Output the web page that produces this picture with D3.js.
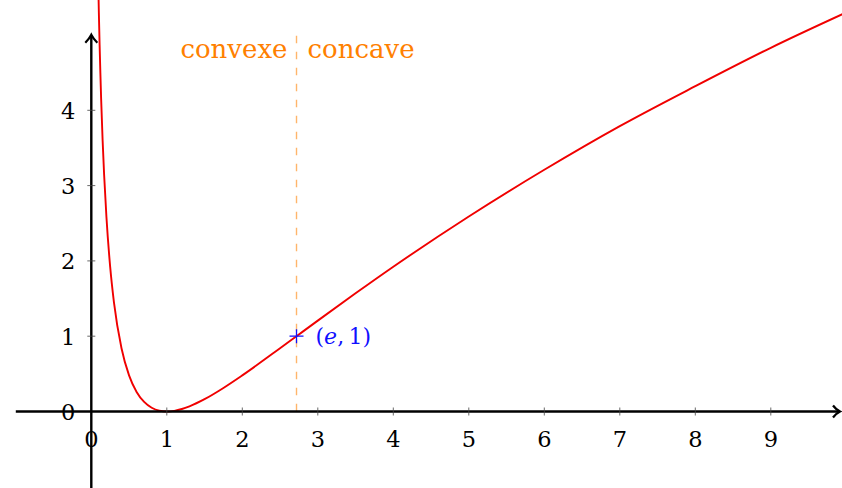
<!DOCTYPE html>
<meta charset="utf-8">
<style>
  body { margin: 0; background: white; }
  text { font-family: "DejaVu Serif", serif; }
</style>
<div id="container"></div>
<script src="https://cdn.jsdelivr.net/npm/d3@7"></script>
<script>

// points
const curveX = [0.09, 0.1, 0.11, 0.12, 0.13, 0.15, 0.17, 0.2, 0.25, 0.3, 0.4, 0.5, 0.6, 0.7, 0.8, 0.9, 1,
                1.1, 1.2, 1.3, 1.5, 1.75, 2, 2.5, 2.718, 3, 3.5, 4, 5, 6, 7, 8, 9, 10];
const curveY = [5.80, 5.30, 4.87, 4.50, 4.16, 3.60, 3.14, 2.59, 1.92, 1.45, 0.84, 0.48, 0.26, 0.127, 0.050, 0.011, 0,
                0.009, 0.033, 0.069, 0.164, 0.313, 0.48, 0.84, 1, 1.207, 1.569, 1.922, 2.59, 3.21, 3.79, 4.32, 4.83, 5.30];

const xTicks = [0, 1, 2, 3, 4, 5, 6, 7, 8, 9];
const yTicks = [0, 1, 2, 3, 4];
const inflection = { x: 2.718, y: 1 };
const leftLabel = "convexe";
const rightLabel = "concave";

const width = 842, height = 488;

const x = d3.scaleLinear().domain([-1, 10]).range([15.8, 846.3]);
const y = d3.scaleLinear().domain([0, 1]).range([411.5, 336.2]);

const svg = d3.create("svg").attr("width", width).attr("height", height);

// curve
svg.append("path")
    .datum(curveX.map((d, i) => [d, curveY[i]]))
    .attr("fill", "none")
    .attr("stroke", "#f00000")
    .attr("stroke-width", 1.9)
    .attr("d", d3.line().x(d => x(d[0])).y(d => y(d[1])).curve(d3.curveMonotoneX));

// dashed line at x = e
svg.append("line")
    .attr("x1", x(inflection.x)).attr("x2", x(inflection.x))
    .attr("y1", y(4.99)).attr("y2", y(0))
    .attr("stroke", "#ffb56b")
    .attr("stroke-width", 1.4)
    .attr("stroke-dasharray", "7.5,8.5");

// axes
const axisColor = "black";
svg.append("line")
    .attr("x1", x(-1)).attr("x2", 839)
    .attr("y1", y(0)).attr("y2", y(0))
    .attr("stroke", axisColor).attr("stroke-width", 2.4);
svg.append("line")
    .attr("x1", x(0)).attr("x2", x(0))
    .attr("y1", height).attr("y2", y(4.99))
    .attr("stroke", axisColor).attr("stroke-width", 2.4);

// arrow heads
svg.append("path")
    .attr("d", `M${833},${y(0) - 6} Q${836},${y(0) - 2} ${840},${y(0)} Q${836},${y(0) + 2} ${833},${y(0) + 6}`)
    .attr("fill", "none").attr("stroke", axisColor).attr("stroke-width", 2.2);
svg.append("path")
    .attr("d", `M${x(0) - 6},${y(4.99) + 7} Q${x(0) - 2},${y(4.99) + 3} ${x(0)},${y(4.99) - 1} Q${x(0) + 2},${y(4.99) + 3} ${x(0) + 6},${y(4.99) + 7}`)
    .attr("fill", "none").attr("stroke", axisColor).attr("stroke-width", 2.2);

// ticks
svg.append("g").selectAll("line").data(xTicks.slice(1)).join("line")
    .attr("x1", d => x(d)).attr("x2", d => x(d))
    .attr("y1", y(0) - 4).attr("y2", y(0) + 4)
    .attr("stroke", "#444").attr("stroke-width", 0.8);
svg.append("g").selectAll("line").data(yTicks.slice(1)).join("line")
    .attr("x1", x(0) - 4).attr("x2", x(0) + 4)
    .attr("y1", d => y(d)).attr("y2", d => y(d))
    .attr("stroke", "#444").attr("stroke-width", 0.8);

// tick labels
svg.append("g").selectAll("text").data(xTicks).join("text")
    .attr("x", d => x(d)).attr("y", y(0) + 35.5)
    .attr("text-anchor", "middle")
    .attr("font-size", 22.5)
    .text(d => d);
svg.append("g").selectAll("text").data(yTicks).join("text")
    .attr("x", x(0) - 16).attr("y", d => y(d) + 8.5)
    .attr("text-anchor", "end")
    .attr("font-size", 22.5)
    .text(d => d);

// labels
svg.append("text")
    .attr("x", x(inflection.x) - 9).attr("y", 58)
    .attr("text-anchor", "end")
    .attr("font-size", 26)
    .attr("fill", "#ff8000")
    .text(leftLabel);
svg.append("text")
    .attr("x", x(inflection.x) + 11).attr("y", 58)
    .attr("font-size", 26)
    .attr("fill", "#ff8000")
    .text(rightLabel);

// point (e, 1)
const px = x(inflection.x), py = y(inflection.y);
svg.append("path")
    .attr("d", `M${px - 7},${py}H${px + 7}M${px},${py - 7}V${py + 7}`)
    .attr("stroke", "#1010ff").attr("stroke-width", 1.3);
const lab = svg.append("text")
    .attr("x", px + 19).attr("y", py + 8)
    .attr("font-size", 22)
    .attr("fill", "#1010ff");
lab.append("tspan").text("(");
lab.append("tspan").attr("font-style", "italic").text("e");
lab.append("tspan").text(",\u20091)");

container.append(svg.node());
</script>
